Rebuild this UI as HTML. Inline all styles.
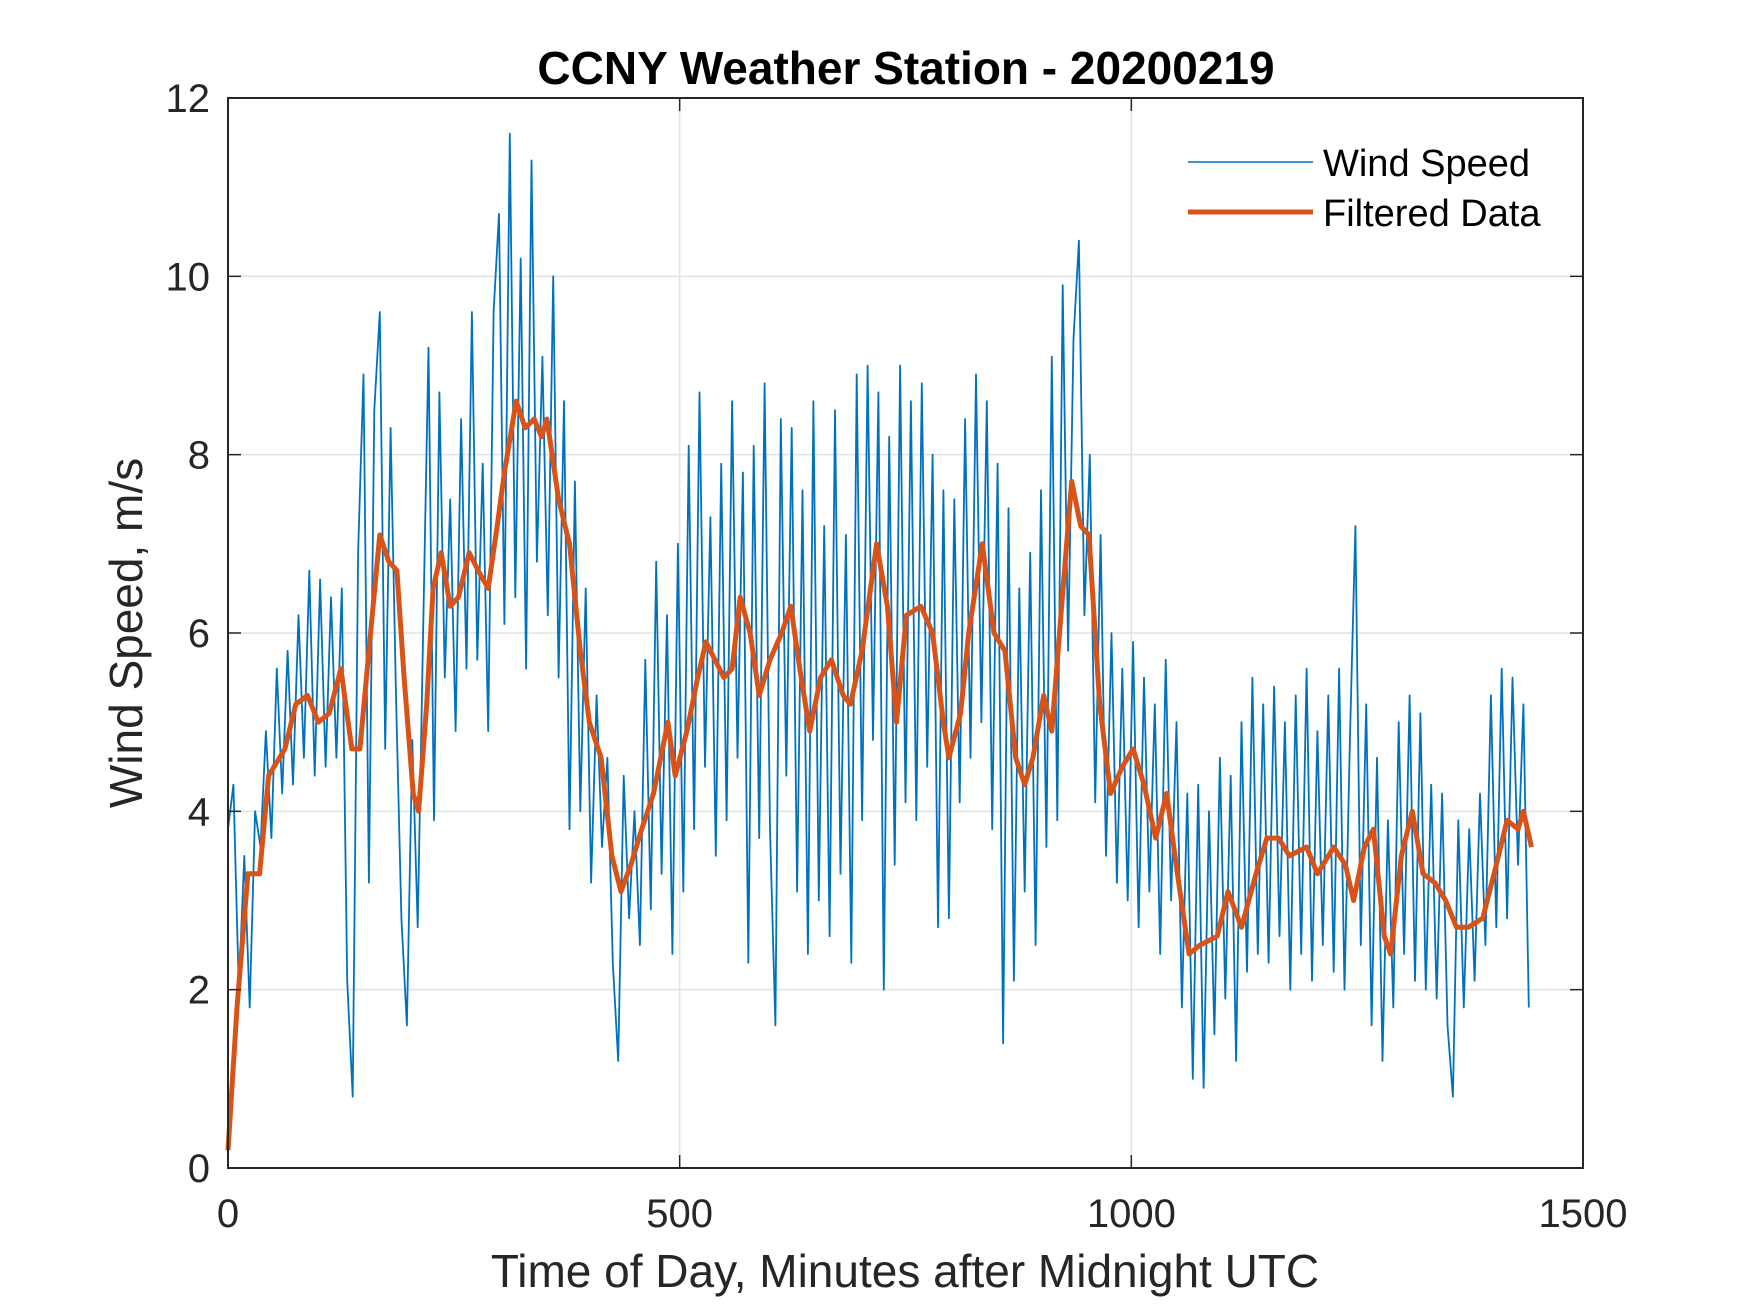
<!DOCTYPE html>
<html><head><meta charset="utf-8"><style>
html,body{margin:0;padding:0;background:#fff;}
svg{display:block;font-family:"Liberation Sans",Arial,sans-serif;}
</style></head><body>
<svg id="chart" width="1750" height="1313" viewBox="0 0 1750 1313">
<rect width="1750" height="1313" fill="#fff"/>
<g id="grid"></g>
<g id="series"></g>
<g id="axes"></g>
<text x="906" y="84" text-anchor="middle" font-size="46" font-weight="bold" fill="#000">CCNY Weather Station - 20200219</text>
<text x="905" y="1287" text-anchor="middle" font-size="46" fill="#262626">Time of Day, Minutes after Midnight UTC</text>
<text transform="translate(142,633) rotate(-90)" text-anchor="middle" font-size="46" fill="#262626">Wind Speed, m/s</text>
<g>
<line x1="1188" y1="162" x2="1313" y2="162" stroke="#0072BD" stroke-width="1.6"/>
<text x="1323" y="176" font-size="38" fill="#000">Wind Speed</text>
<line x1="1188" y1="212" x2="1313" y2="212" stroke="#D95319" stroke-width="5"/>
<text x="1323" y="226" font-size="38" fill="#000">Filtered Data</text>
</g>
</svg>
<script>
const xTicks = [0, 500, 1000, 1500];
const yTicks = [0, 2, 4, 6, 8, 10, 12];
const windStep = 6;
const windValues = [3.8,4.3,2.0,3.5,1.8,4.0,3.6,4.9,3.7,5.6,4.2,5.8,4.3,6.2,4.6,6.7,4.4,6.6,4.5,6.4,4.6,6.5,2.1,0.8,6.9,8.9,3.2,8.5,9.6,4.7,8.3,5.3,2.8,1.6,4.8,2.7,6.0,9.2,3.9,8.7,5.5,7.5,4.9,8.4,5.6,9.6,5.7,7.9,4.9,9.6,10.7,6.1,11.6,6.4,10.2,5.6,11.3,6.8,9.1,6.2,10.0,5.5,8.6,3.8,7.7,4.0,6.5,3.2,5.3,3.6,4.6,2.3,1.2,4.4,2.8,4.0,2.5,5.7,2.9,6.8,3.3,6.2,2.4,7.0,3.1,8.1,3.8,8.7,4.5,7.3,3.5,7.9,3.9,8.6,4.6,7.8,2.3,8.1,3.7,8.8,3.8,1.6,8.4,4.4,8.3,3.1,7.6,2.4,8.6,3.0,7.2,2.6,8.5,3.3,7.1,2.3,8.9,3.9,9.0,4.8,8.7,2.0,8.2,3.4,9.0,4.1,8.6,3.9,8.8,4.5,8.0,2.7,7.6,2.8,7.5,4.1,8.4,4.6,8.9,5.0,8.6,3.8,7.9,1.4,7.4,2.1,6.5,3.1,6.9,2.5,7.6,3.6,9.1,3.9,9.9,5.8,9.3,10.4,6.2,8.0,4.1,7.1,3.5,6.0,3.2,5.6,3.0,5.9,2.7,5.5,3.1,5.2,2.4,5.7,3.0,5.0,1.8,4.2,1.0,4.3,0.9,4.0,1.5,4.6,1.9,4.4,1.2,5.0,2.2,5.5,2.4,5.2,2.3,5.4,2.6,5.0,2.0,5.3,2.4,5.6,2.1,4.9,2.5,5.3,2.2,5.6,2.0,4.8,7.2,2.5,5.2,1.6,4.6,1.2,3.9,1.8,5.0,2.4,5.3,2.1,5.1,2.0,4.3,1.9,4.2,1.6,0.8,3.9,1.8,3.8,2.1,4.2,2.5,5.3,2.7,5.6,2.8,5.5,3.4,5.2,1.8];
const filtTimes = [0,10,22,35,45,63,75,88,100,112,125,137,146,156,168,178,187,195,205,211,220,227,236,246,255,267,277,288,298,306,319,329,339,347,353,366,378,390,400,413,425,435,446,458,471,487,495,508,520,529,539,549,558,567,578,588,600,613,623,633,644,656,668,681,689,702,718,730,740,751,767,780,792,798,811,820,835,848,860,872,882,891,903,912,922,934,944,953,965,977,990,1002,1014,1027,1039,1051,1064,1076,1095,1107,1122,1138,1150,1163,1175,1194,1206,1224,1237,1246,1258,1268,1280,1287,1299,1311,1323,1336,1348,1360,1373,1389,1404,1416,1428,1434,1443];
const filtValues = [0.2,1.8,3.3,3.3,4.4,4.7,5.2,5.3,5.0,5.1,5.6,4.7,4.7,5.8,7.1,6.8,6.7,5.5,4.2,4.0,5.2,6.5,6.9,6.3,6.4,6.9,6.7,6.5,7.2,7.8,8.6,8.3,8.4,8.2,8.4,7.5,7.0,5.8,5.0,4.6,3.5,3.1,3.4,3.8,4.2,5.0,4.4,4.9,5.5,5.9,5.7,5.5,5.6,6.4,6.0,5.3,5.7,6.0,6.3,5.6,4.9,5.5,5.7,5.3,5.2,5.8,7.0,6.3,5.0,6.2,6.3,6.0,5.0,4.6,5.1,6.0,7.0,6.0,5.8,4.6,4.3,4.6,5.3,4.9,6.2,7.7,7.2,7.1,5.2,4.2,4.5,4.7,4.3,3.7,4.2,3.3,2.4,2.5,2.6,3.1,2.7,3.3,3.7,3.7,3.5,3.6,3.3,3.6,3.4,3.0,3.6,3.8,2.6,2.4,3.5,4.0,3.3,3.2,3.0,2.7,2.7,2.8,3.4,3.9,3.8,4.0,3.6];

const L=228,R=1583,T=98,B=1168;
const xMin=0,xMax=1500,yMin=0,yMax=12;
function sx(v){return L+(v-xMin)/(xMax-xMin)*(R-L);}
function sy(v){return B-(v-yMin)/(yMax-yMin)*(B-T);}
const NS='http://www.w3.org/2000/svg';
function mk(tag,attrs,parent){const e=document.createElementNS(NS,tag);for(const k in attrs)e.setAttribute(k,attrs[k]);parent.appendChild(e);return e;}
const grid=document.getElementById('grid'),axes=document.getElementById('axes'),series=document.getElementById('series');

xTicks.forEach(t=>{
  const x=sx(t);
  if(t>xMin&&t<xMax){
    const g=mk('line',{x1:x,y1:T,x2:x,y2:B,stroke:'#e3e3e3','stroke-width':1.5},grid);
    
    
  }
  const a=mk('line',{x1:x,y1:B,x2:x,y2:B-13,stroke:'#262626','stroke-width':1.5},axes);
  
  
  const b=mk('line',{x1:x,y1:T,x2:x,y2:T+13,stroke:'#262626','stroke-width':1.5},axes);
  
  
  const tx=mk('text',{x:x,y:B+59,'text-anchor':'middle','font-size':40,fill:'#262626'},axes);
  tx.textContent=String(t);
  
  
});
yTicks.forEach(t=>{
  const y=sy(t);
  if(t>yMin&&t<yMax){
    const g=mk('line',{x1:L,y1:y,x2:R,y2:y,stroke:'#e3e3e3','stroke-width':1.5},grid);
    
    
  }
  const a=mk('line',{x1:L,y1:y,x2:L+13,y2:y,stroke:'#262626','stroke-width':1.5},axes);
  
  
  const b=mk('line',{x1:R,y1:y,x2:R-13,y2:y,stroke:'#262626','stroke-width':1.5},axes);
  
  
  const tx=mk('text',{x:L-18,y:y+14,'text-anchor':'end','font-size':40,fill:'#262626'},axes);
  tx.textContent=String(t);
  
  
});
const frame=mk('rect',{x:L,y:T,width:R-L,height:B-T,fill:'none',stroke:'#262626','stroke-width':2},axes);



const wp=windValues.map((v,i)=>sx(i*windStep).toFixed(1)+','+sy(v).toFixed(1)).join(' ');
const wl=mk('polyline',{points:wp,fill:'none',stroke:'#0072BD','stroke-width':1.8,'stroke-linejoin':'round'},series);


const fp=filtValues.map((v,i)=>sx(filtTimes[i]).toFixed(1)+','+sy(v).toFixed(1)).join(' ');
const fl=mk('polyline',{points:fp,fill:'none',stroke:'#D95319','stroke-width':5,'stroke-linejoin':'round'},series);


</script>
</body></html>
